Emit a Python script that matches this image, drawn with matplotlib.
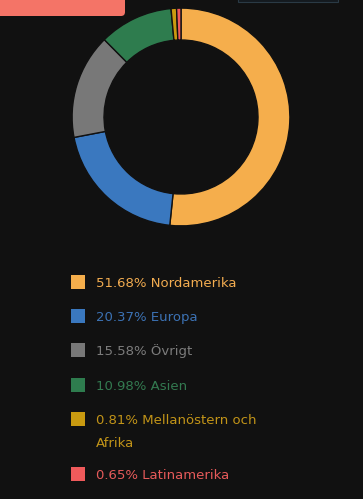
import matplotlib
matplotlib.use("Agg")
import matplotlib.pyplot as plt
from matplotlib.patches import Rectangle, FancyBboxPatch

labels = ["Nordamerika", "Europa", "Övrigt", "Asien", "Mellanöstern och\nAfrika", "Latinamerika"]
values = [51.68, 20.37, 15.58, 10.98, 0.81, 0.65]
colors = ["#F5AE4C", "#3A78BF", "#787878", "#2E7C4E", "#C99A10", "#EF5A5B"]
text_colors = ["#F2AC50", "#3C72B4", "#7C7C7C", "#337A50", "#C29418", "#E65A5A"]

W, H = 363, 499
bg = "#111111"
fig = plt.figure(figsize=(W / 100, H / 100), dpi=100, facecolor=bg)

def fx(px):
    return px / W

def fy(py):
    return 1 - py / H

# top decorations
deco = fig.add_axes([0, 0, 1, 1], facecolor="none")
deco.set_xlim(0, W)
deco.set_ylim(H, 0)
deco.axis("off")
deco.add_patch(FancyBboxPatch((-10, -10), 135, 26, boxstyle="round,pad=0,rounding_size=4",
                              facecolor="#F47467", edgecolor="none"))
deco.add_patch(Rectangle((238, -5), 100, 6.5, facecolor="#141a1f", edgecolor="#2a3a45", lw=0.8))

# donut
cx, cy, R = 181, 117, 110
ax = fig.add_axes([fx(cx - R), fy(cy + R), 2 * R / W, 2 * R / H])
ax.set_facecolor("none")
ax.pie(values, colors=colors, startangle=90, counterclock=False, radius=0.99,
       wedgeprops=dict(width=0.29, edgecolor=bg, linewidth=1.0))
ax.set_xlim(-1, 1)
ax.set_ylim(-1, 1)
ax.set_aspect("equal")
ax.axis("off")

# legend
row_y = [282, 316, 350, 385, 419, 474]
for v, lab, c, tc, y in zip(values, labels, colors, text_colors, row_y):
    deco.add_patch(Rectangle((71, y - 7), 14, 14, facecolor=c, edgecolor="none"))
    lines = f"{v:.2f}% {lab}".split("\n")
    for i, line in enumerate(lines):
        deco.text(96, y + 23 * i, line, color=tc, fontsize=9.5, family="DejaVu Sans",
                  va="center_baseline", ha="left")

fig.savefig("out.png", dpi=100, facecolor=bg)
